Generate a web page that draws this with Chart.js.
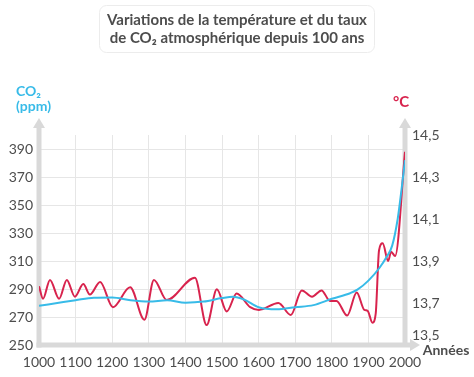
<!DOCTYPE html>
<html>
<head>
<meta charset="utf-8">
<script src="https://cdn.jsdelivr.net/npm/chart.js@4"></script>
<style>
  html, body { margin: 0; padding: 0; background: #fff; }
  #wrap { width: 474px; height: 377px; }
</style>
</head>
<body>
<div id="wrap"><canvas id="chart" width="474" height="377"></canvas></div>
<script>
// values
const co2Years = [1000, 1050, 1100, 1150, 1200, 1250, 1300, 1350, 1400, 1450, 1500, 1530, 1560, 1600, 1650, 1700, 1750, 1800, 1850, 1870, 1900, 1930, 1950, 1965, 1980, 1990, 2000];
const co2Values = [278, 280, 282, 283.8, 284, 282, 281, 282, 280.2, 281, 283.5, 284.5, 282.5, 277, 275.5, 277, 278.5, 283, 287, 289.5, 296, 305, 313, 321, 340, 360, 382];

const tempYears = [1000, 1011, 1030, 1055, 1076, 1098, 1121, 1139, 1167, 1202, 1249, 1288, 1314, 1349, 1426, 1458, 1486, 1513, 1540, 1577, 1601, 1654, 1688, 1718, 1746, 1772, 1795, 1813, 1842, 1868, 1889, 1898, 1911, 1920, 1929, 1939, 1954, 1962, 1973, 2000];
const tempValues = [13.78, 13.72, 13.81, 13.72, 13.81, 13.73, 13.79, 13.74, 13.80, 13.68, 13.775, 13.62, 13.81, 13.714, 13.82, 13.595, 13.765, 13.66, 13.745, 13.68, 13.667, 13.70, 13.643, 13.76, 13.73, 13.76, 13.71, 13.71, 13.64, 13.75, 13.667, 13.663, 13.606, 13.65, 13.95, 13.984, 13.90, 13.944, 13.924, 14.42];

const titleLines = ["Variations de la température et du taux", "de CO₂ atmosphérique depuis 100 ans"];

const BLUE = "#38bbe8";
const RED = "#d8234d";
const AXIS = "#d9d9d9";
const GRID = "#e6e6e6";
const TEXT = "#4d4d4d";
const FONT = "Lato, 'Open Sans', sans-serif";

const co2Points = co2Years.map((x, i) => ({ x: x, y: co2Values[i] }));
const tempPoints = tempYears.map((x, i) => ({ x: x, y: tempValues[i] }));

// gray axes with arrows, title box, axis titles
const decorPlugin = {
  id: "decor",
  beforeDatasetsDraw(chart) {
    const ctx = chart.ctx;
    const a = chart.chartArea;
    ctx.save();
    ctx.strokeStyle = AXIS;
    ctx.fillStyle = AXIS;
    ctx.lineWidth = 5;
    ctx.lineCap = "butt";
    // left axis
    ctx.beginPath();
    ctx.moveTo(a.left, a.bottom + 2.5);
    ctx.lineTo(a.left, a.top - 8);
    ctx.stroke();
    // right axis
    ctx.beginPath();
    ctx.moveTo(a.right, a.bottom);
    ctx.lineTo(a.right, a.top - 8);
    ctx.stroke();
    // bottom axis
    ctx.beginPath();
    ctx.moveTo(a.left - 2.5, a.bottom);
    ctx.lineTo(a.right + 6, a.bottom);
    ctx.stroke();
    // arrow heads
    const up = (x, y) => {
      ctx.beginPath();
      ctx.moveTo(x - 6, y);
      ctx.lineTo(x, y - 10);
      ctx.lineTo(x + 6, y);
      ctx.closePath();
      ctx.fill();
    };
    up(a.left, a.top - 7);
    up(a.right, a.top - 7);
    ctx.beginPath();
    ctx.moveTo(a.right + 5, a.bottom - 6);
    ctx.lineTo(a.right + 15, a.bottom);
    ctx.lineTo(a.right + 5, a.bottom + 6);
    ctx.closePath();
    ctx.fill();
    ctx.restore();
  },
  afterDraw(chart) {
    const ctx = chart.ctx;
    const a = chart.chartArea;
    ctx.save();
    // title box
    ctx.strokeStyle = "#ececec";
    ctx.lineWidth = 1;
    ctx.fillStyle = "#fff";
    ctx.beginPath();
    ctx.roundRect(99.5, 5.5, 275, 47, 7);
    ctx.fill();
    ctx.stroke();
    ctx.fillStyle = TEXT;
    ctx.font = "bold 15px " + FONT;
    ctx.textAlign = "center";
    ctx.textBaseline = "middle";
    ctx.fillText(titleLines[0], 237, 20);
    ctx.fillText(titleLines[1], 237, 38);
    // axis titles
    ctx.textAlign = "left";
    ctx.fillStyle = BLUE;
    ctx.font = "bold 14px " + FONT;
    ctx.fillText("CO₂", 16, 91);
    ctx.fillText("(ppm)", 16, 106);
    ctx.fillStyle = RED;
    ctx.textAlign = "center";
    ctx.font = "bold 15px " + FONT;
    ctx.fillText("°C", 401, 102);
    ctx.fillStyle = TEXT;
    ctx.font = "bold 14px " + FONT;
    ctx.fillText("Années", 446, 350);
    // lowest right tick, lifted above "Années" as in the original
    ctx.textAlign = "left";
    ctx.font = "14px " + FONT;
    ctx.fillText("13,5", a.right + 7, 335);
    ctx.restore();
  },
};

new Chart(document.getElementById("chart"), {
  type: "line",
  data: {
    datasets: [
      {
        label: "CO2 (ppm)",
        data: co2Points,
        yAxisID: "y",
        borderColor: BLUE,
        borderWidth: 2,
        pointRadius: 0,
        cubicInterpolationMode: "monotone",
        fill: false,
      },
      {
        label: "Température (°C)",
        data: tempPoints,
        yAxisID: "y1",
        borderColor: RED,
        borderWidth: 2,
        pointRadius: 0,
        cubicInterpolationMode: "monotone",
        fill: false,
      },
    ],
  },
  options: {
    responsive: false,
    animation: false,
    layout: { padding: { top: 135, left: 0, right: 0, bottom: 0 } },
    plugins: {
      legend: { display: false },
      tooltip: { enabled: false },
    },
    scales: {
      x: {
        type: "linear",
        min: 1000,
        max: 2000,
        border: { display: false },
        grid: { color: GRID, drawTicks: false },
        ticks: {
          stepSize: 100,
          padding: 9,
          color: TEXT,
          autoSkip: false,
          maxRotation: 0,
          minRotation: 0,
          font: { family: FONT, size: 14 },
          callback: (v) => String(v),
        },
        afterFit: (s) => { s.height = 32; },
      },
      y: {
        position: "left",
        min: 250,
        max: 400,
        border: { display: false },
        grid: { color: GRID, drawTicks: false },
        ticks: {
          stepSize: 10,
          padding: 6,
          color: TEXT,
          font: { family: FONT, size: 14 },
          callback: (v) => (Math.round(v - 250) % 20 === 0 && v < 400 ? String(v) : ""),
        },
        afterFit: (s) => { s.width = 39; },
      },
      y1: {
        position: "right",
        min: 13.5,
        max: 14.5,
        border: { display: false },
        grid: { display: false, drawTicks: false },
        ticks: {
          stepSize: 0.1,
          padding: 7,
          color: TEXT,
          font: { family: FONT, size: 14 },
          callback: (v, i) => (i % 2 === 0 && i > 0 ? v.toFixed(1).replace(".", ",") : ""),
        },
        afterFit: (s) => { s.width = 69; },
      },
    },
  },
  plugins: [decorPlugin],
});
</script>
</body>
</html>
